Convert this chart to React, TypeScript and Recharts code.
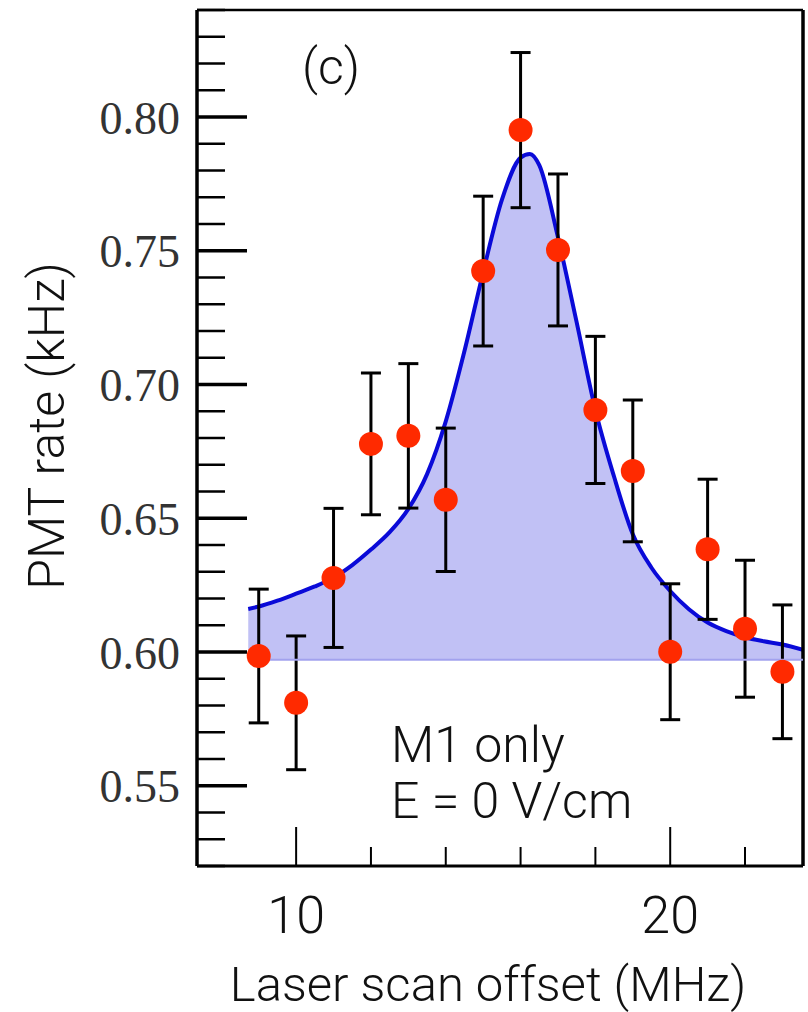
import React from 'react'
import {
  ComposedChart,
  Area,
  Scatter,
  ErrorBar,
  XAxis,
  YAxis,
  ReferenceLine,
} from 'recharts'

// measured points (MHz, kHz) with 1-sigma error
const scanOffset = [9, 10, 11, 12, 13, 14, 15, 16, 17, 18, 19, 20, 21, 22, 23]
const pmtRate = [
  0.5985, 0.581, 0.6277, 0.6778, 0.6808, 0.6569, 0.7424, 0.7951, 0.7503, 0.6905,
  0.6677, 0.6001, 0.6384, 0.6087, 0.5926,
]
const rateErr = [
  0.025, 0.025, 0.026, 0.0265, 0.027, 0.0268, 0.028, 0.029, 0.0284, 0.0275, 0.0265,
  0.0254, 0.0262, 0.0256, 0.025,
]

// fitted lineshape
const fitX = [
  8.72, 9, 9.5, 10, 10.5, 11, 11.5, 12, 12.5, 13, 13.5, 14, 14.5, 15, 15.5, 16, 16.25,
  16.5, 17, 17.5, 18, 18.5, 19, 19.5, 20, 20.5, 21, 21.5, 22, 22.5, 23, 23.55,
]
const fitRate = [
  0.6161, 0.617, 0.6192, 0.6218, 0.6245, 0.6278, 0.6325, 0.6383, 0.6448, 0.6535, 0.6665,
  0.6862, 0.7125, 0.742, 0.769, 0.7848, 0.7862, 0.782, 0.755, 0.7232, 0.6905, 0.6655,
  0.644, 0.6315, 0.6228, 0.616, 0.611, 0.6078, 0.6055, 0.604, 0.6028, 0.6008,
]
const fitBase = 0.5971

const xDomain = [7.35, 23.55]
const yDomain = [0.52, 0.84]
const xTicks = [10, 12, 14, 16, 18, 20, 22]
const xLabelTicks = [10, 20]
const yTicks = [
  0.52, 0.53, 0.54, 0.55, 0.56, 0.57, 0.58, 0.59, 0.6, 0.61, 0.62, 0.63, 0.64, 0.65,
  0.66, 0.67, 0.68, 0.69, 0.7, 0.71, 0.72, 0.73, 0.74, 0.75, 0.76, 0.77, 0.78, 0.79,
  0.8, 0.81, 0.82, 0.83, 0.84,
]
const yLabelTicks = [0.55, 0.6, 0.65, 0.7, 0.75, 0.8]

const points = scanOffset.map((x, i) => ({ x, rate: pmtRate[i], err: rateErr[i] }))
const fit = fitX.map((x, i) => ({ x, fit: fitRate[i] }))

const SANS = "Roboto, 'Liberation Sans', sans-serif"
const SERIF = "'Liberation Serif', 'DejaVu Serif', serif"

function YTick(props: any) {
  const { x, y, payload } = props
  const v = payload.value
  const major = yLabelTicks.some((t) => Math.abs(t - v) < 1e-6)
  return (
    <g>
      <line x1={x} y1={y} x2={x + (major ? 50 : 28)} y2={y} stroke="#000" strokeWidth={major ? 3.5 : 2.5} />
      {major && (
        <text x={x - 17} y={y} dy="0.36em" textAnchor="end" fontFamily={SERIF} fontSize={46} fill="#333">
          {v.toFixed(2)}
        </text>
      )}
    </g>
  )
}

function XTick(props: any) {
  const { x, y, payload } = props
  const v = payload.value
  const major = xLabelTicks.includes(v)
  return (
    <g>
      <line x1={x} y1={y} x2={x} y2={y - (major ? 39 : 19)} stroke="#000" strokeWidth={2} />
      {major && (
        <text x={x} y={y + 67} textAnchor="middle" fontFamily={SANS} fontWeight={300} fontSize={52} fill="#111">
          {v}
        </text>
      )}
    </g>
  )
}

export default function App() {
  return (
    <div style={{ position: 'absolute', left: 0, top: 0, width: 808, height: 1012, background: '#fff' }}>
      <ComposedChart width={808} height={1012} data={fit} margin={{ top: 10, right: 5, bottom: 0, left: 0 }}>
        <XAxis
          dataKey="x"
          type="number"
          domain={xDomain}
          allowDataOverflow
          ticks={xTicks}
          interval={0}
          tick={<XTick />}
          tickLine={false}
          tickSize={0}
          tickMargin={0}
          height={146}
          axisLine={{ stroke: '#000', strokeWidth: 3 }}
        />
        <YAxis
          type="number"
          domain={yDomain}
          allowDataOverflow
          ticks={yTicks}
          interval={0}
          tick={<YTick />}
          tickLine={false}
          tickSize={0}
          tickMargin={0}
          width={197}
          axisLine={{ stroke: '#000', strokeWidth: 3.5 }}
        />
        <ReferenceLine y={yDomain[1]} stroke="#000" strokeWidth={2.5} ifOverflow="visible" />
        <ReferenceLine x={xDomain[1]} stroke="#000" strokeWidth={3.5} ifOverflow="visible" />
        <Scatter data={points} dataKey="rate" isAnimationActive={false} shape={() => <g />}>
          <ErrorBar dataKey="err" direction="y" width={10} stroke="#000" strokeWidth={3} isAnimationActive={false} />
        </Scatter>
        <Area
          dataKey="fit"
          type="monotone"
          baseValue={fitBase}
          stroke="#0a0ad8"
          strokeWidth={4}
          fill="#3333dd"
          fillOpacity={0.3}
          isAnimationActive={false}
          dot={false}
          activeDot={false}
        />
        <ReferenceLine
          segment={[
            { x: fitX[0], y: fitBase },
            { x: fitX[fitX.length - 1], y: fitBase },
          ]}
          stroke="#a2a2ee"
          strokeWidth={2}
        />
        <Scatter
          data={points}
          dataKey="rate"
          isAnimationActive={false}
          shape={(p: any) => <circle cx={p.cx} cy={p.cy} r={12} fill="#ff2a00" />}
        />
      </ComposedChart>
      <svg width={808} height={1012} style={{ position: 'absolute', left: 0, top: 0, pointerEvents: 'none' }}>
        <g fontFamily={SANS} fontWeight={300} fill="#111">
          <text x={302} y={84} fontSize={50}>(c)</text>
          <text x={391} y={762} fontSize={50}>M1 only</text>
          <text x={391} y={818} fontSize={50}>E = 0 V/cm</text>
          <text x={488} y={1001} fontSize={49} textAnchor="middle">Laser scan offset (MHz)</text>
          <text transform="translate(64, 426) rotate(-90)" fontSize={50} textAnchor="middle">PMT rate (kHz)</text>
        </g>
      </svg>
    </div>
  )
}
